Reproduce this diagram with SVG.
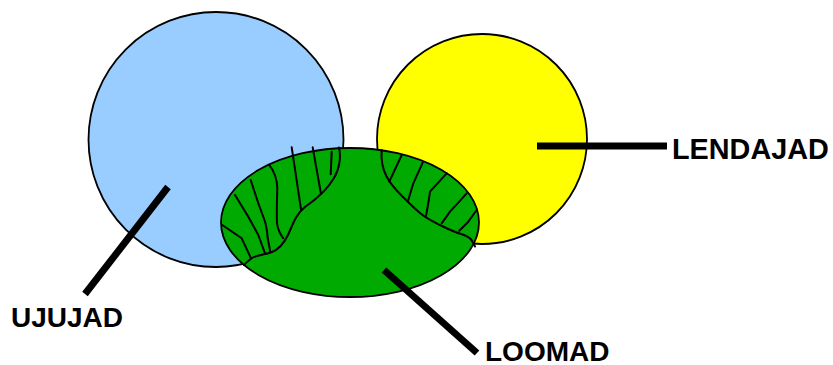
<svg xmlns="http://www.w3.org/2000/svg" width="833" height="365" viewBox="0 0 833 365">
<style>
.shape{stroke:#000;stroke-width:1.8}
.hatch{fill:none;stroke:#000;stroke-width:2;stroke-linecap:round;stroke-linejoin:round}
.conn{stroke:#000;stroke-width:7;stroke-linecap:butt}
.label{font-family:"Liberation Sans",Arial,sans-serif;font-weight:bold;font-size:28px;fill:#000}
</style>
<rect width="833" height="365" fill="#fff"/>
<g id="node-ujujad">
<circle class="shape" cx="216" cy="139.5" r="127.5" fill="#99CCFF"/>
<text class="label" x="11" y="327">UJUJAD</text>
</g>
<g id="node-lendajad">
<circle class="shape" cx="482" cy="139" r="105" fill="#FFFF00"/>
<text class="label" x="672" y="159" style="font-size:28.8px">LENDAJAD</text>
</g>
<g id="node-loomad">
<ellipse class="shape" cx="350" cy="222.5" rx="129" ry="74.5" fill="#00AA00"/>
<path class="hatch" d="M339,147.5 C341,156 340,168 334,178 C327,190 318,198 305,207 C296,214 293,224 288,235 C284,243 280,249 272,252 C264,255 257,255 252,258 C249,260 247,262 244,265"/>
<path class="hatch" d="M291.7,147.3 L301,209.3"/>
<path class="hatch" d="M312.7,147.3 L321,194"/>
<path class="hatch" d="M331.7,151.7 L330.7,174.3"/>
<path class="hatch" d="M269.3,165 C274,171 277,178 277.3,188 C277,200 276.5,212 277,223.3 C278,230 280,234 283.3,238.3"/>
<path class="hatch" d="M250.7,180 L258.3,203.3 C261,211 264,218 265.7,224 C267,230 267.5,234 267.7,238.3 L270.3,251.7"/>
<path class="hatch" d="M235,195 L248.3,216.7 L258.3,235 L265,253.3"/>
<path class="hatch" d="M222.3,225 L241.7,238.3 L251,258.3"/>
<path class="hatch" d="M381.7,150 C381,158 382,168 386.7,176.7 C390,183 395,189 402,196 C408,202 414,208 420,213 C427,219 434,222 442,226 C450,230 457,233 464,235 C469,237 472,239 473.3,243.3 L475,246.5"/>
<path class="hatch" d="M401.7,155 L389.3,181.7"/>
<path class="hatch" d="M422.7,162.7 L413.3,183.3 L408.3,200"/>
<path class="hatch" d="M446.7,173.3 L430,191.7 L428.3,203.3 L426,216"/>
<path class="hatch" d="M466.7,193.3 L450,211.7 L441.7,223.3"/>
<path class="hatch" d="M476.7,210 L468.3,221.7 L459.3,230.7"/>
<text class="label" x="485" y="361">LOOMAD</text>
</g>
<g id="connectors">
<line class="conn" x1="168" y1="187" x2="85" y2="294"/>
<line class="conn" x1="537" y1="146" x2="667" y2="146"/>
<line class="conn" x1="384" y1="270" x2="477" y2="353"/>
</g>
</svg>
